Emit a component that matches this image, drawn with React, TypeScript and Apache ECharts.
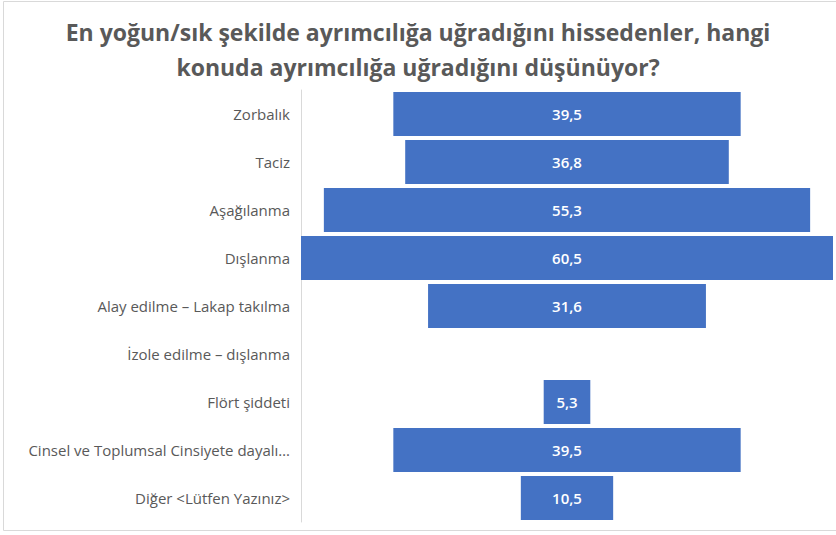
import React, { useEffect, useRef } from "react";
import * as echarts from "echarts";

const titleLines = [
  "En yoğun/sık şekilde ayrımcılığa uğradığını hissedenler, hangi",
  "konuda ayrımcılığa uğradığını düşünüyor?",
];
const categories = [
  "Zorbalık",
  "Taciz",
  "Aşağılanma",
  "Dışlanma",
  "Alay edilme – Lakap takılma",
  "İzole edilme – dışlanma",
  "Flört şiddeti",
  "Cinsel ve Toplumsal Cinsiyete dayalı…",
  "Diğer <Lütfen Yazınız>",
];
const values: (number | null)[] = [39.5, 36.8, 55.3, 60.5, 31.6, null, 5.3, 39.5, 10.5];

export default function App() {
  const ref = useRef<HTMLDivElement>(null);
  useEffect(() => {
    document.body.style.margin = "0";
    const chart = echarts.init(ref.current!, null, { renderer: "svg" });
    const maxV = Math.max(...values.map((v) => (v == null ? 0 : v)));
    const offsets = values.map((v) => (v == null ? null : (maxV - v) / 2));
    chart.setOption({
      animation: false,
      backgroundColor: "#ffffff",
      title: {
        text: titleLines.join("\n"),
        left: "center",
        top: 9,
        textStyle: {
          fontFamily: "Open Sans",
          fontWeight: "bold",
          fontSize: 23,
          color: "#595959",
          lineHeight: 35,
        },
      },
      graphic: [
        {
          type: "rect",
          shape: { x: 3.5, y: 1.5, width: 840, height: 529 },
          style: { fill: "none", stroke: "#d9d9d9", lineWidth: 1 },
          silent: true,
        },
      ],
      grid: { left: 301, right: 3, top: 90, bottom: 13, containLabel: false },
      xAxis: { type: "value", min: 0, max: maxV, show: false },
      yAxis: {
        type: "category",
        inverse: true,
        data: categories,
        axisLine: { show: true, lineStyle: { color: "#d9d9d9", width: 1 } },
        axisTick: { show: false },
        axisLabel: {
          color: "#595959",
          fontFamily: "Open Sans",
          fontSize: 15,
          margin: 11,
        },
      },
      series: [
        {
          type: "bar",
          stack: "f",
          data: offsets,
          itemStyle: { color: "transparent" },
          barCategoryGap: "8%",
          silent: true,
        },
        {
          type: "bar",
          stack: "f",
          data: values,
          barCategoryGap: "8%",
          itemStyle: { color: "#4472c4" },
          label: {
            show: true,
            position: "inside",
            color: "#ffffff",
            fontFamily: "Open Sans",
            fontWeight: 600,
            fontSize: 15,
            formatter: (p: any) => String(p.value).replace(".", ","),
          },
        },
      ],
    });
    return () => chart.dispose();
  }, []);
  return <div ref={ref} style={{ width: 836, height: 535 }} />;
}
